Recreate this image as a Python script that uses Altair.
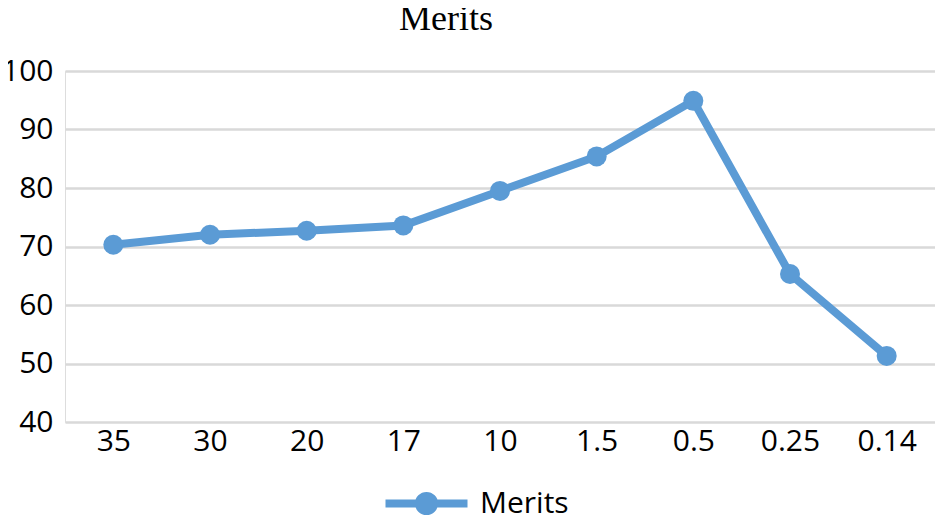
import altair as alt
import pandas as pd

categories = ["35", "30", "20", "17", "10", "1.5", "0.5", "0.25", "0.14"]
merits = [70.3, 72.0, 72.7, 73.6, 79.5, 85.4, 94.9, 65.3, 51.3]
series_name = "Merits"

df = pd.DataFrame({"cat": categories, "value": merits, "series": [series_name] * len(categories)})

BLUE = "#5B9BD5"
FONT = "Open Sans"

x = alt.X("cat:O", sort=categories, title=None,
          scale=alt.Scale(type="point", padding=0.5),
          axis=alt.Axis(labelAngle=0, labelFontSize=30, labelFont=FONT, labelColor="#000000",
                        ticks=False, domain=False, labelPadding=4, grid=False))
y = alt.Y("value:Q", title=None,
          scale=alt.Scale(domain=[40, 100], nice=False, zero=False),
          axis=alt.Axis(values=[40, 50, 60, 70, 80, 90, 100], labelFontSize=30, labelFont=FONT,
                        labelColor="#000000", ticks=False, domain=False, labelPadding=12,
                        gridColor="#D9D9D9", gridWidth=2.5))
color = alt.Color("series:N", scale=alt.Scale(range=[BLUE]), title=None,
                  legend=alt.Legend(orient="none", legendX=337, legendY=408,
                                    symbolType="M-2,0H2M-0.37,0A0.37,0.37,0,1,1,0.37,0A0.37,0.37,0,1,1,-0.37,0",
                                    symbolSize=1681, symbolStrokeWidth=8, symbolFillColor=BLUE,
                                    symbolStrokeColor=BLUE, labelFontSize=30, labelFont=FONT,
                                    labelColor="#000000", labelOffset=29))

line = alt.Chart(df).mark_line(strokeWidth=8).encode(x=x, y=y, color=color)
pts = alt.Chart(df).mark_circle(size=400, opacity=1).encode(x=x, y=y, color=color)

chart = alt.layer(line, pts).properties(
    width=870, height=351,
    title=alt.TitleParams("Merits", font="Liberation Serif", fontSize=36, fontWeight="normal",
                          color="#000000", anchor="middle", dx=-54, offset=18),
    autosize=alt.AutoSizeParams(type="none"),
    padding={"left": 57, "top": 63, "right": 0, "bottom": 94},
).configure_view(stroke=None).configure(background="white")

chart.save("out.html", embed_options={"renderer": "svg", "actions": False})
